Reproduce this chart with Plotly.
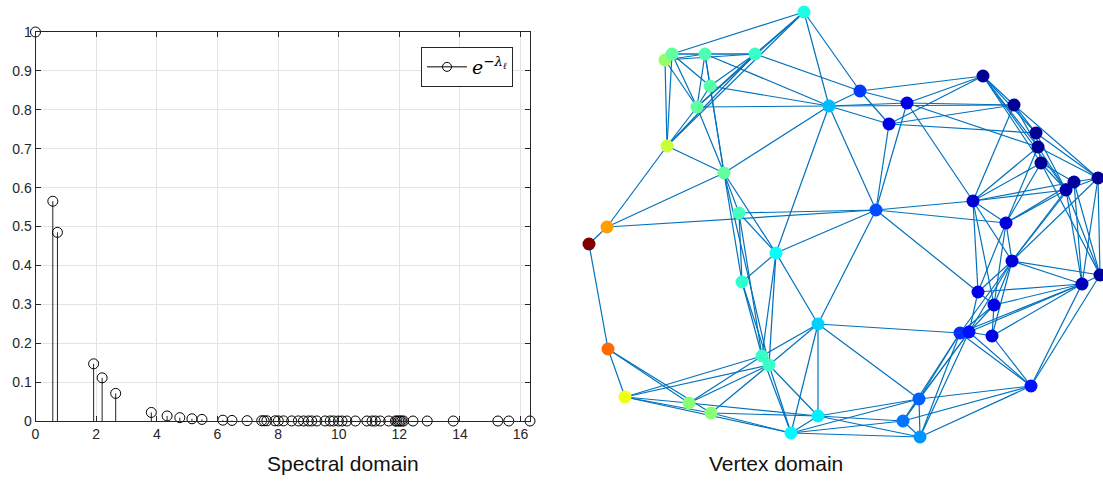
import plotly.graph_objects as go

# ---------------- Spectral domain data ----------------
eigenvalues = [0.0, 0.571, 0.724, 1.917, 2.198, 2.645, 3.82, 4.34, 4.76, 5.16, 5.49,
               6.18, 6.48, 6.98, 7.46, 7.54, 7.63, 7.90, 8.01, 8.18, 8.45, 8.67, 8.84,
               9.00, 9.11, 9.28, 9.55, 9.72, 9.83, 9.99, 10.11, 10.27, 10.55, 10.93,
               11.10, 11.21, 11.37, 11.65, 11.87, 11.92, 11.98, 12.03, 12.08, 12.14,
               12.45, 12.92, 13.78, 15.25, 15.61, 16.31]
kernel_values = [1.0, 0.565, 0.485, 0.147, 0.111, 0.071, 0.022, 0.013, 0.0086, 0.0057,
                 0.0041, 0.0021, 0.0015, 0.0009, 0.0006, 0.0005, 0.0005, 0.0004, 0.0003,
                 0.0003, 0.0002, 0.0002, 0.0001, 0.0001, 0.0001, 0.0001, 0.0001, 0.0001,
                 0.0001, 0.0, 0.0, 0.0, 0.0, 0.0, 0.0, 0.0, 0.0, 0.0, 0.0, 0.0, 0.0, 0.0,
                 0.0, 0.0, 0.0, 0.0, 0.0, 0.0, 0.0, 0.0]
x_ticks = [0, 2, 4, 6, 8, 10, 12, 14, 16]
y_ticks = [0, 0.1, 0.2, 0.3, 0.4, 0.5, 0.6, 0.7, 0.8, 0.9, 1]
y_tick_labels = ["0", "0.1", "0.2", "0.3", "0.4", "0.5", "0.6", "0.7", "0.8", "0.9", "1"]

# ---------------- Vertex domain data ----------------
node_x = [804, 665, 672, 705, 755, 710, 697, 829, 667, 724, 739, 607, 589, 776, 742,
          818, 608, 762, 769, 625, 689, 711, 791, 818, 860, 907, 889, 983, 1014, 1036,
          1038, 1041, 1074, 1066, 1098, 973, 876, 1006, 1012, 1100, 1082, 978, 994, 960,
          969, 992, 1031, 919, 903, 920]
node_y = [12, 60, 54, 54, 54, 86, 107, 106, 146, 173, 213, 227, 244, 253, 282, 324, 349,
          356, 365, 397, 403, 413, 433, 416, 91, 103, 124, 76, 105, 133, 147, 163, 182,
          190, 178, 201, 210, 223, 261, 275, 284, 292, 305, 333, 332, 336, 386, 399, 421,
          437]
signal = [0.40, 0.52, 0.47, 0.45, 0.43, 0.46, 0.47, 0.31, 0.57, 0.47, 0.44, 0.72, 1.0,
          0.38, 0.42, 0.33, 0.77, 0.43, 0.43, 0.61, 0.51, 0.51, 0.37, 0.36, 0.18, 0.10,
          0.10, 0.02, 0.02, 0.02, 0.02, 0.02, 0.03, 0.04, 0.02, 0.08, 0.20, 0.09, 0.09,
          0.03, 0.06, 0.11, 0.10, 0.17, 0.14, 0.10, 0.14, 0.22, 0.24, 0.27]
edges = [
    (1, 3), (1, 5), (1, 7), (1, 9), (1, 8), (1, 25),
    (2, 3), (3, 4), (2, 4), (4, 5), (3, 5), (2, 5),
    (2, 9), (3, 9), (2, 7), (3, 7), (3, 6), (4, 6), (4, 7), (5, 7), (5, 9), (5, 6),
    (4, 8), (6, 8), (7, 8), (6, 7), (7, 9), (5, 25),
    (4, 10), (6, 10), (7, 10), (9, 10), (9, 12), (10, 12), (12, 37), (11, 37), (10, 8),
    (10, 11), (10, 15), (10, 19), (11, 15), (11, 18), (11, 14), (10, 14),
    (12, 13), (13, 17), (17, 20), (17, 21), (17, 22), (20, 21), (20, 22), (20, 18),
    (20, 19), (20, 23), (21, 18), (21, 19), (22, 19), (22, 23), (21, 24), (22, 24),
    (14, 15), (14, 18), (14, 19), (14, 16), (15, 19), (15, 18), (16, 19), (16, 18),
    (16, 23), (16, 24), (19, 23), (18, 23), (23, 24), (19, 24),
    (14, 37), (16, 44), (16, 37), (16, 48), (37, 42),
    (24, 48), (24, 49), (24, 50), (23, 48), (23, 49), (23, 50),
    (8, 25), (8, 26), (8, 27), (8, 29), (8, 37), (8, 14), (25, 26), (25, 27), (25, 28),
    (26, 28), (27, 28), (26, 29), (27, 29), (26, 31), (27, 30), (26, 36), (27, 37),
    (26, 37),
    (28, 29), (28, 30), (28, 31), (28, 32), (28, 34), (29, 30), (29, 31), (29, 35),
    (29, 36), (30, 34), (31, 34), (32, 33), (32, 34), (30, 35), (31, 35), (33, 35),
    (34, 35), (30, 31), (31, 32),
    (36, 31), (36, 32), (36, 33), (36, 34), (37, 36), (37, 38), (36, 38), (36, 42),
    (36, 43), (36, 39),
    (38, 32), (38, 33), (38, 34), (38, 31), (38, 39), (38, 42), (38, 43),
    (39, 40), (39, 41), (39, 42), (39, 43), (39, 44), (39, 45), (39, 46),
    (40, 41), (41, 42), (41, 43), (41, 44), (41, 45), (41, 46), (41, 47), (40, 47),
    (42, 43), (42, 45), (43, 45), (43, 46), (44, 45), (45, 46), (46, 47), (44, 47),
    (45, 47), (43, 44),
    (44, 48), (45, 48), (44, 49), (45, 49), (44, 50), (45, 50),
    (47, 48), (47, 49), (47, 50), (48, 49), (48, 50), (49, 50),
    (35, 40), (35, 41), (33, 40), (33, 41), (34, 41), (32, 40), (34, 40), (33, 39),
    (34, 39), (35, 39),
]

# MATLAB "jet" colormap
jet = [[0.0, "rgb(0,0,128)"], [0.125, "rgb(0,0,255)"], [0.375, "rgb(0,255,255)"],
       [0.625, "rgb(255,255,0)"], [0.875, "rgb(255,0,0)"], [1.0, "rgb(128,0,0)"]]

W, H = 1103, 493
fig = go.Figure()

legend_name = "<i>e</i><sup>\u2212<i>\u03bb</i><sub><i>\u2113</i></sub></sup>"

# stems
stem_x, stem_y = [], []
for lam, v in zip(eigenvalues, kernel_values):
    stem_x += [lam, lam, None]
    stem_y += [0, v, None]
fig.add_trace(go.Scatter(x=stem_x, y=stem_y, mode="lines",
                         line=dict(color="#222222", width=1), showlegend=False,
                         hoverinfo="skip", xaxis="x", yaxis="y", cliponaxis=False))
# circles
fig.add_trace(go.Scatter(x=eigenvalues, y=kernel_values, mode="markers",
                         marker=dict(symbol="circle-open", size=10,
                                     color="black", line=dict(width=1, color="black")),
                         showlegend=False, xaxis="x", yaxis="y", cliponaxis=False))
# legend proxy
fig.add_trace(go.Scatter(x=[None], y=[None], mode="lines+markers",
                         line=dict(color="black", width=1),
                         marker=dict(symbol="circle-open", size=9, color="black"),
                         name=legend_name, showlegend=True, xaxis="x", yaxis="y"))

# graph edges
ex, ey = [], []
for a, b in edges:
    ex += [node_x[a - 1], node_x[b - 1], None]
    ey += [node_y[a - 1], node_y[b - 1], None]
fig.add_trace(go.Scatter(x=ex, y=ey, mode="lines",
                         line=dict(color="#0072BD", width=1.2),
                         showlegend=False, hoverinfo="skip", xaxis="x2", yaxis="y2",
                         cliponaxis=False))
fig.add_trace(go.Scatter(x=node_x, y=node_y, mode="markers",
                         marker=dict(size=13, color=signal, colorscale=jet, cmin=0, cmax=1,
                                     line=dict(width=0)),
                         showlegend=False, xaxis="x2", yaxis="y2", cliponaxis=False))

axis_common = dict(showline=True, linecolor="#262626", linewidth=1, mirror="ticks",
                   ticks="inside", ticklen=5, tickcolor="#262626", automargin=False,
                   showgrid=True, gridcolor="#e3e3e3", gridwidth=1, zeroline=False,
                   tickfont=dict(family="Liberation Sans, Arial", size=14, color="#262626"))

fig.update_layout(
    width=W, height=H, margin=dict(l=0, r=0, t=0, b=0, autoexpand=False),
    paper_bgcolor="white", plot_bgcolor="white",
    xaxis=dict(domain=[35.5 / W, 530 / W], range=[0, 16.31], tickvals=x_ticks,
               anchor="y", **axis_common),
    yaxis=dict(domain=[(H - 421) / H, (H - 32) / H], range=[0, 1], tickvals=y_ticks,
               ticktext=y_tick_labels, anchor="x", **axis_common),
    xaxis2=dict(domain=[570 / W, 1.0], range=[570, W], visible=False, anchor="y2",
                automargin=False),
    yaxis2=dict(domain=[0, 1], range=[H, 0], visible=False, anchor="x2",
                automargin=False),
    legend=dict(x=513 / W, y=(H - 47) / H, xanchor="right", yanchor="top",
                bgcolor="white", bordercolor="#262626", borderwidth=1,
                font=dict(family="DejaVu Serif, Liberation Serif", size=19, color="black"),
                itemwidth=40, tracegroupgap=0),
    showlegend=True,
    annotations=[
        dict(text="Spectral domain", x=265 / W, y=(H - 477) / H, xref="paper", yref="paper",
             showarrow=False, font=dict(family="Liberation Sans, Arial", size=21, color="#111111")),
        dict(text="Vertex domain", x=845 / W, y=(H - 477) / H, xref="paper", yref="paper",
             showarrow=False, font=dict(family="Liberation Sans, Arial", size=21, color="#111111")),
    ],
)

fig.write_html("out.html")
